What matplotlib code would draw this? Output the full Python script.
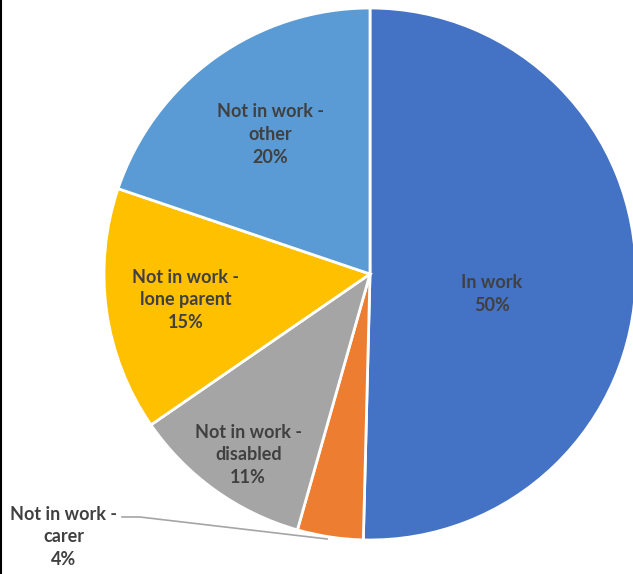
import numpy as np
import matplotlib.pyplot as plt
from matplotlib.lines import Line2D

labels = ['In work', 'Not in work -\ncarer', 'Not in work -\ndisabled',
          'Not in work -\nlone parent', 'Not in work -\nother']
shares = [50.4, 4.0, 11.0, 14.8, 19.8]
pct_labels = ['50%', '4%', '11%', '15%', '20%']
colors = ['#4472C4', '#ED7D31', '#A5A5A5', '#FFC000', '#5B9BD5']
# label placement: fraction of radius and angle shift from wedge middle
label_r = [0.465, None, 0.82, 0.70, 0.645]
label_shift = [-8.6, 0, 1.7, 0, 0]

fig = plt.figure(figsize=(6.33, 5.74), dpi=100)
ax = fig.add_axes([0, 0, 1, 1])

cx, cy, R = 370, 300, 266
wedges, _ = ax.pie(shares, colors=colors, startangle=90, counterclock=False,
                   center=(cx, cy), radius=R, frame=True,
                   wedgeprops=dict(edgecolor='white', linewidth=2))
ax.set_xlim(0, 633)
ax.set_ylim(0, 574)
ax.set_aspect('equal')
ax.axis('off')

txt = dict(ha='center', va='center', fontsize=13, fontweight='bold',
           color='#404040', family=['Lato', 'DejaVu Sans'], linespacing=1.4)
for w, lab, p, r, sh in zip(wedges, labels, pct_labels, label_r, label_shift):
    s_lab = f'{lab}\n{p}'
    if r is None:
        mid = np.deg2rad((w.theta1 + w.theta2) / 2)
        ex, ey = cx + R * np.cos(mid), cy + R * np.sin(mid)
        ax.plot([122, 140, ex - 3], [57, 57, ey - 2], color='#A5A5A5', lw=1.2)
        ax.text(64, 37, s_lab, **txt)
    else:
        mid = np.deg2rad((w.theta1 + w.theta2) / 2 + sh)
        ax.text(cx + r * R * np.cos(mid), cy + r * R * np.sin(mid), s_lab, **txt)

fig.add_artist(Line2D([0.001, 0.001], [0, 1], color='black', lw=1.5))
fig.savefig('out.png', dpi=100)
